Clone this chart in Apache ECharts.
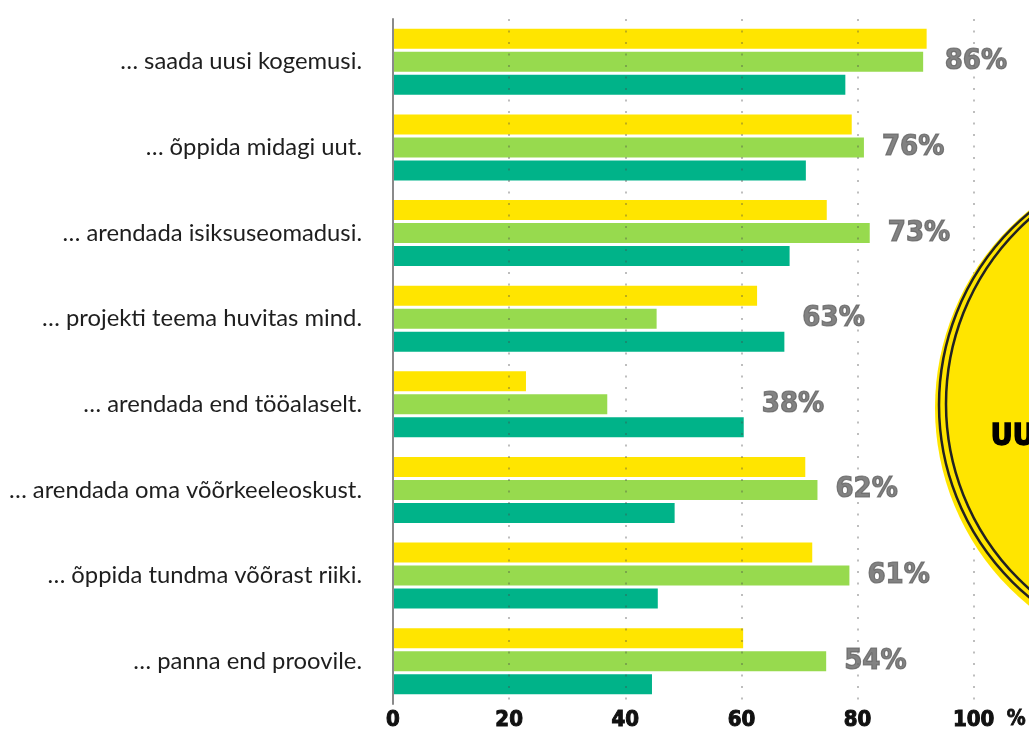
<!DOCTYPE html>
<html>
<head>
<meta charset="utf-8">
<script src="https://cdn.jsdelivr.net/npm/echarts@6/dist/echarts.min.js"></script>
<style>
html,body{margin:0;padding:0;background:#fff;}
#c{width:1029px;height:735px;}
</style>
</head>
<body>
<div id="c"></div>
<script>
const categories = [
  '… saada uusi kogemusi.',
  '… õppida midagi uut.',
  '… arendada isiksuseomadusi.',
  '… projekti teema huvitas mind.',
  '… arendada end tööalaselt.',
  '… arendada oma võõrkeeleoskust.',
  '… õppida tundma võõrast riiki.',
  '… panna end proovile.'
];
const yellowValues = [91.9, 79.0, 74.7, 62.7, 22.9, 71.0, 72.2, 60.3];
const greenValues  = [91.3, 81.1, 82.1, 45.4, 36.9, 73.1, 78.6, 74.6];
const tealValues   = [77.9, 71.1, 68.3, 67.4, 60.4, 48.5, 45.6, 44.6];
const pctLabels    = [86, 76, 73, 63, 38, 62, 61, 54];
const xTicks = [0, 20, 40, 60, 80, 100];
const calloutText = 'UU';

const heavyFont = '"DejaVu Sans Condensed", "DejaVu Sans", sans-serif';

const chart = echarts.init(document.getElementById('c'), null, {renderer: 'canvas'});

const labelPoints = categories.map((c, i) => [Math.max(yellowValues[i], greenValues[i], tealValues[i]), c]);

const barCommon = {
  type: 'bar',
  barWidth: 20,
  barGap: '15%',
  z: 2
};

chart.setOption({
  animation: false,
  backgroundColor: '#ffffff',
  grid: {left: 393, right: 52, top: 19, bottom: 31, containLabel: false},
  xAxis: {
    type: 'value',
    min: 0, max: 100, interval: 20,
    z: 5,
    name: '%',
    nameLocation: 'end',
    nameGap: 33,
    nameTextStyle: {fontFamily: heavyFont, fontWeight: 'bold', fontSize: 21, color: '#111', textBorderColor: '#111', textBorderWidth: 0.8, verticalAlign: 'top', padding: [5, 0, 0, 0]},
    axisLine: {show: false},
    axisTick: {show: false},
    axisLabel: {
      margin: 5,
      fontFamily: heavyFont, fontWeight: 'bold', fontSize: 22, color: '#111',
      textBorderColor: '#111', textBorderWidth: 1,
      formatter: v => xTicks.includes(v) ? String(v) : ''
    },
    splitLine: {
      show: true,
      lineStyle: {color: 'rgba(70,70,70,0.35)', width: 2, type: [2, 9.5]}
    }
  },
  yAxis: {
    type: 'category',
    data: categories,
    inverse: true,
    z: 6,
    axisLine: {show: true, lineStyle: {color: '#8a8a8a', width: 2}},
    axisTick: {show: false},
    axisLabel: {margin: 31, fontFamily: 'Lato', fontSize: 23.8, color: '#1e1e1e', padding: [6, 0, 0, 0]}
  },
  series: [
    Object.assign({}, barCommon, {name: 'yellow', data: yellowValues, itemStyle: {color: '#FFE500'}}),
    Object.assign({}, barCommon, {name: 'green', data: greenValues, itemStyle: {color: '#97DA4E'}}),
    Object.assign({}, barCommon, {name: 'teal', data: tealValues, itemStyle: {color: '#00B389'}}),
    {
      type: 'scatter',
      data: labelPoints,
      symbolSize: 0,
      z: 7,
      label: {
        show: true,
        position: 'right',
        distance: 18,
        fontFamily: heavyFont, fontWeight: 'bold', fontSize: 29, color: '#636363',
        textBorderColor: '#636363', textBorderWidth: 1.2,
        formatter: p => pctLabels[p.dataIndex] + '%'
      }
    }
  ],
  graphic: [
    {type: 'circle', shape: {cx: 1190, cy: 408, r: 255}, style: {fill: '#FFE500'}, z: 10},
    {type: 'circle', shape: {cx: 1189, cy: 405, r: 250}, style: {fill: 'none', stroke: '#222', lineWidth: 2.5}, z: 11},
    {type: 'circle', shape: {cx: 1193, cy: 404, r: 247}, style: {fill: 'none', stroke: '#222', lineWidth: 2.5}, z: 11},
    {type: 'text', left: 990, top: 421, style: {text: calloutText, fontFamily: heavyFont, fontWeight: 'bold', fontSize: 30, fill: '#000', stroke: '#000', lineWidth: 1.5}, z: 12}
  ]
});
</script>
</body>
</html>
